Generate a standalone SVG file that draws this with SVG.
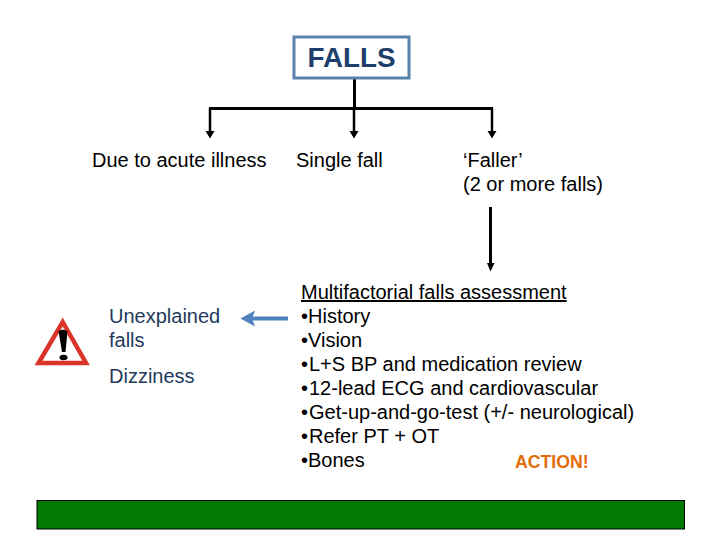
<svg xmlns="http://www.w3.org/2000/svg" width="720" height="540" viewBox="0 0 720 540">
<style>
text{font-family:"Liberation Sans",Arial,sans-serif;font-size:20px;fill:#000}
.b{fill:#1f3a5c}
.l{stroke:#000;fill:none;stroke-width:3}
.d{stroke:#000;fill:none;stroke-width:2.500}
</style>
<rect width="720" height="540" fill="#fff"/>
<g id="connectors">
<path class="l" d="M354.500 78V108"/>
<path class="l" d="M209 108.500H493"/>
<path class="d" d="M210 108V132"/>
<path class="d" d="M354 108V132"/>
<path class="d" d="M492 108V132"/>
<path d="M205.500 131H214.500L210 138.500Z M349.500 131H358.500L354 138.500Z M487.500 131H496.500L492 138.500Z"/>
<path class="l" d="M490.500 207V264"/>
<path d="M487 263H494.500L490.500 271.500Z"/>
<path d="M288 318.500H252" stroke="#4f81bd" stroke-width="4" fill="none"/>
<path d="M240.500 318.500L255 310.500L252 318.500L255 326.500Z" fill="#4f81bd"/>
</g>
<g id="falls"><rect x="294" y="37" width="115" height="41" fill="#fff" stroke="#5b82ad" stroke-width="3"/><text x="351.500" y="67" text-anchor="middle" style="font-size:27.800px;fill:#1f3f6d;font-weight:700">FALLS</text></g>
<g id="acute"><text x="92" y="167">Due to acute illness</text></g>
<g id="single"><text x="296" y="167">Single fall</text></g>
<g id="faller"><text x="463" y="167">‘Faller’</text><text x="463" y="191">(2 or more falls)</text></g>
<g id="warning"><path d="M62.700 322L86 363H38.500Z" fill="#fff" stroke="#d9352b" stroke-width="4.500" stroke-linejoin="miter"/><path d="M58.500 331L63 329.500L67.500 331L65.500 352H62Z" fill="#000"/><ellipse cx="63.500" cy="357.500" rx="4" ry="2.800" fill="#000"/></g>
<g id="unexplained"><text class="b" x="109" y="323">Unexplained</text><text class="b" x="109" y="347">falls</text><text class="b" x="109" y="383">Dizziness</text></g>
<g id="assessment"><text x="301" y="299" text-decoration="underline">Multifactorial falls assessment</text><text x="301" y="323">•History</text><text x="301" y="347">•Vision</text><text x="301" y="371">•<tspan x="309">L+S BP and medication review</tspan></text><text x="301" y="395">•<tspan x="309">12-lead ECG and cardiovascular</tspan></text><text x="301" y="419">•<tspan x="309">Get-up-and-go-test (+/- neurological)</tspan></text><text x="301" y="443">•<tspan x="309">Refer PT + OT</tspan></text><text x="301" y="467">•Bones</text></g>
<g id="action"><text x="515" y="468" style="font-size:17.700px;font-weight:700;fill:#e36c0a">ACTION!</text></g>
<g id="bar"><rect x="37" y="500.500" width="647.500" height="28.500" fill="#007a00" stroke="#000" stroke-width="1"/></g>
</svg>
